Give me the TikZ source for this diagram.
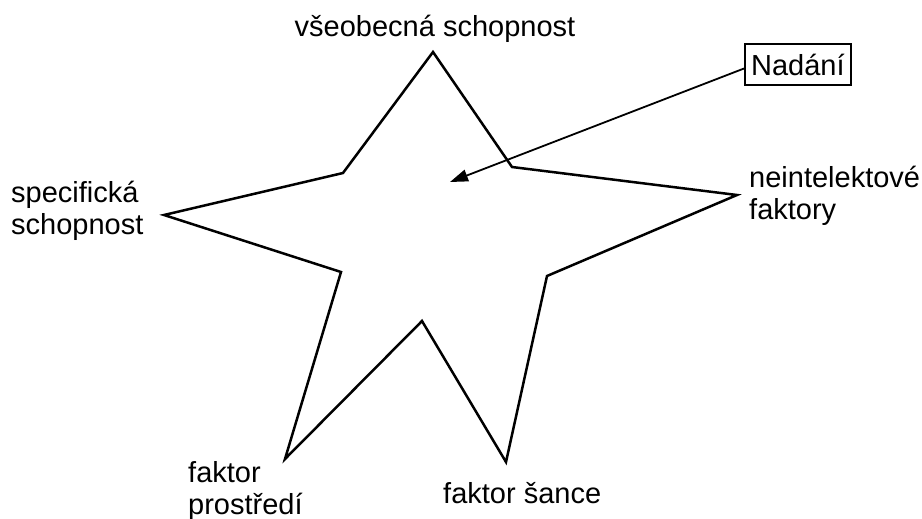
\documentclass[tikz,border=0pt]{standalone}
\usepackage{fontspec}
\setmainfont{Liberation Sans}
\usetikzlibrary{arrows.meta}
\tikzset{
  lbl/.style={inner sep=0pt, font=\fontsize{29}{32}\selectfont},
  starline/.style={line width=2.5pt, line join=miter},
  boxed/.style={draw, line width=2.2pt, inner xsep=6pt, inner ysep=0pt, minimum height=41pt, font=\fontsize{29}{32}\selectfont},
  pointer/.style={line width=1.8pt, -{Triangle[length=18pt,width=12pt]}}
}
\begin{document}
\begin{tikzpicture}[x=1pt,y=-1pt]
\useasboundingbox (0,0) rectangle (922,519);
% star vertices
\coordinate (t)  at (433,52);
\coordinate (i1) at (512,167);
\coordinate (r)  at (737,195);
\coordinate (i2) at (547,276);
\coordinate (b)  at (506,462);
\coordinate (i3) at (422,321);
\coordinate (bl) at (285,459);
\coordinate (i4) at (341,272);
\coordinate (l)  at (164,215);
\coordinate (i5) at (343,173);
\draw[starline] (t) -- (i1) -- (r) -- (i2) -- (b) -- (i3) -- (bl) -- (i4) -- (l) -- (i5) -- cycle;
% labels
\node[lbl, anchor=base] (top) at (435,37) {všeobecná schopnost};
\node[lbl, anchor=base west] (left) at (11,202) {\begin{tabular}[t]{@{}l@{}}specifická\\schopnost\end{tabular}};
\node[lbl, anchor=base west] (right) at (749,187) {\begin{tabular}[t]{@{}l@{}}neintelektové\\faktory\end{tabular}};
\node[lbl, anchor=base west] (prost) at (188,482) {\begin{tabular}[t]{@{}l@{}}faktor\\prostředí\end{tabular}};
\node[lbl, anchor=base west] (sance) at (443,503) {faktor šance};
% Nadani box and arrow
\node[boxed, anchor=west] (nad) at (744,64.5) {Nadání};
\coordinate (tip) at (450,182);
\draw[pointer] (nad.west) ++(0,4) -- (tip);
\end{tikzpicture}
\end{document}
